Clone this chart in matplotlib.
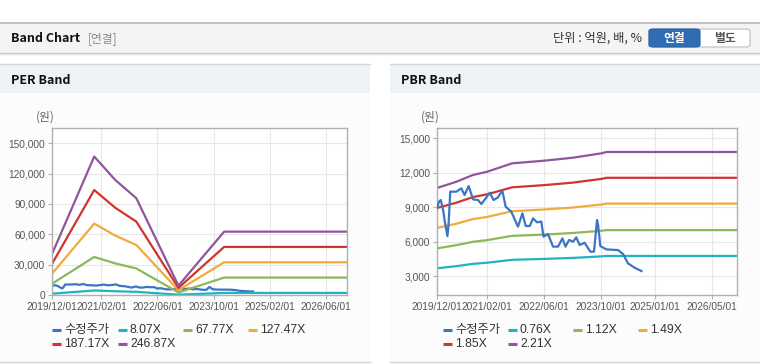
import matplotlib
matplotlib.use("Agg")
import matplotlib.pyplot as plt
import matplotlib.dates as mdates
from matplotlib.patches import Rectangle, FancyBboxPatch
from matplotlib.lines import Line2D
from matplotlib.ticker import FuncFormatter, FixedLocator
import pandas as pd

# ---------------- data ----------------
price_dates = ["2019-12-01", "2019-12-18", "2020-01-02", "2020-01-22", "2020-02-08", "2020-02-28",
               "2020-03-09", "2020-03-23", "2020-05-13", "2020-06-25", "2020-07-23", "2020-08-27",
               "2020-10-03", "2020-11-15", "2020-12-13", "2021-01-25", "2021-02-23", "2021-03-27",
               "2021-05-03", "2021-06-10", "2021-07-08", "2021-08-25", "2021-10-21", "2021-11-28",
               "2021-12-26", "2022-01-30", "2022-02-27", "2022-04-01", "2022-05-08", "2022-05-27",
               "2022-07-04", "2022-08-16", "2022-09-28", "2022-11-04", "2022-11-30", "2022-12-31",
               "2023-02-03", "2023-03-02", "2023-03-31", "2023-05-12", "2023-06-30", "2023-07-31",
               "2023-08-26", "2023-09-04", "2023-09-23", "2023-11-14", "2024-02-22", "2024-04-04",
               "2024-05-16", "2024-07-12", "2024-09-08"]
price_values = [8900, 9480, 9620, 8750, 7590, 6480,
                7590, 10350, 10350, 10640, 10060, 10840,
                9680, 9620, 9270, 9850, 10260, 9620,
                9850, 10440, 9040, 8610, 7300, 8460,
                7360, 7360, 8030, 7680, 7740, 6430,
                6660, 5560, 5560, 6280, 5560, 6140,
                5990, 6370, 5700, 5900, 5120, 5120,
                7880, 7440, 5610, 5320, 5260, 4910,
                4100, 3720, 3430]

per_dates = ["2019-12-01", "2020-12-01", "2021-06-01", "2021-12-01", "2022-12-01", "2024-01-01", "2026-12-01"]
per_8_07 = [1320, 4470, 3720, 3130, 300, 2050, 2050]
per_67_77 = [11100, 37600, 31200, 26200, 2530, 17200, 17200]
per_127_47 = [20900, 70600, 58700, 49400, 4750, 32300, 32300]
per_187_17 = [30700, 103700, 86200, 72500, 7000, 47500, 47500]
per_246_87 = [40500, 136800, 113700, 95600, 9200, 62600, 62600]

pbr_dates = ["2019-12-01", "2020-05-15", "2020-10-01", "2021-02-01", "2021-09-01", "2022-06-01",
             "2023-02-01", "2023-10-01", "2023-11-15", "2026-12-01"]
pbr_0_76 = [3670, 3860, 4060, 4160, 4410, 4490, 4580, 4710, 4750, 4750]
pbr_1_12 = [5410, 5690, 5980, 6130, 6500, 6610, 6750, 6940, 7000, 7000]
pbr_1_49 = [7190, 7560, 7960, 8150, 8640, 8800, 8970, 9230, 9310, 9310]
pbr_1_85 = [8930, 9390, 9880, 10120, 10730, 10920, 11140, 11460, 11560, 11560]
pbr_2_21 = [10670, 11220, 11800, 12090, 12820, 13050, 13310, 13690, 13810, 13810]

per_labels = ["수정주가", "8.07X", "67.77X", "127.47X", "187.17X", "246.87X"]
pbr_labels = ["수정주가", "0.76X", "1.12X", "1.49X", "1.85X", "2.21X"]
per_xticks = ["2019-12-01", "2021-02-01", "2022-06-01", "2023-10-01", "2025-02-01", "2026-06-01"]
pbr_xticks = ["2019-12-01", "2021-02-01", "2022-06-01", "2023-10-01", "2025-01-01", "2026-05-01"]
per_yticks = [0, 30000, 60000, 90000, 120000, 150000]
pbr_yticks = [3000, 6000, 9000, 12000, 15000]

colors = ["#3a76c4", "#1fb3c4", "#8db858", "#f0ab3e", "#d0342c", "#8f569c"]

# ---------------- figure ----------------
W, H = 760, 364
fig = plt.figure(figsize=(W / 100, H / 100), dpi=100)
fig.patch.set_facecolor("white")
KR = ["Noto Sans CJK KR", "DejaVu Sans"]
NUM = ["Liberation Sans", "Noto Sans CJK KR", "DejaVu Sans"]


def fx(x):
    return x / W


def fy(y):
    return 1 - y / H


def rect(x0, y0, x1, y1, fc, ec="none", lw=0, z=0):
    fig.add_artist(Rectangle((fx(x0), fy(y1)), fx(x1) - fx(x0), fy(y0) - fy(y1),
                             transform=fig.transFigure, facecolor=fc, edgecolor=ec, lw=lw, zorder=z))


def hline(x0, x1, y, color, lw=1.0, z=1):
    fig.add_artist(Line2D([fx(x0), fx(x1)], [fy(y), fy(y)], transform=fig.transFigure,
                          color=color, lw=lw, zorder=z))


# top header
rect(0, 22, 760, 53, "#f4f4f4")
hline(0, 760, 22.5, "#b9b9b9", 1.2)
hline(0, 760, 53, "#c4c4c4", 1.0)
hline(0, 760, 54.2, "#e4e4e4", 1.0)
fig.text(fx(11), fy(38.5), "Band Chart", fontsize=9, fontweight="bold", color="#111111",
         family=KR, va="center", ha="left")
fig.text(fx(88), fy(38.5), "[연결]", fontsize=8.5, color="#8a8a8a", family=KR, va="center", ha="left")
fig.text(fx(642), fy(38.5), "단위 : 억원, 배, %", fontsize=8.8, color="#333333", family=KR,
         va="center", ha="right")
# toggle buttons
fig.add_artist(FancyBboxPatch((fx(649), fy(47)), fx(750) - fx(649), fy(29) - fy(47),
                              boxstyle="round,pad=0,rounding_size=0.006", transform=fig.transFigure,
                              facecolor="white", edgecolor="#bdbdbd", lw=0.8, zorder=2))
fig.add_artist(FancyBboxPatch((fx(649), fy(47)), fx(700) - fx(649), fy(29) - fy(47),
                              boxstyle="round,pad=0,rounding_size=0.006", transform=fig.transFigure,
                              facecolor="#2e6db4", edgecolor="#2a64a6", lw=0.8, zorder=2.5))
fig.text(fx(674.5), fy(38.5), "연결", fontsize=8.5, color="white", fontweight="bold", family=KR,
         va="center", ha="center", zorder=3)
fig.text(fx(725), fy(38.5), "별도", fontsize=8.5, color="#555555", fontweight="bold", family=KR,
         va="center", ha="center", zorder=3)

# panels
for (px0, px1, title) in [(0, 370, "PER Band"), (390, 760, "PBR Band")]:
    rect(px0, 64, px1, 93, "#eef2f7")
    rect(px0, 93, px1, 362, "#fcfcfc")
    hline(px0, px1, 64, "#d6d6d6", 1.0)
    hline(px0, px1, 362, "#d6d6d6", 1.0)
    fig.text(fx(px0 + 11), fy(80), title, fontsize=9, fontweight="bold", color="#111111",
             family=KR, va="center", ha="left")


def setup_axes(ax, xticks, yticks, ylim):
    ax.set_facecolor("white")
    ax.set_xlim(pd.Timestamp("2019-12-01"), pd.Timestamp("2026-12-01"))
    ax.set_ylim(*ylim)
    ax.xaxis.set_major_locator(FixedLocator([mdates.date2num(pd.Timestamp(d)) for d in xticks]))
    ax.xaxis.set_major_formatter(mdates.DateFormatter("%Y/%m/%d"))
    ax.yaxis.set_major_locator(FixedLocator(yticks))
    ax.yaxis.set_major_formatter(FuncFormatter(lambda v, p: f"{int(v):,}"))
    ax.grid(True, color="#e8e8e8", lw=0.8)
    ax.set_axisbelow(True)
    for s in ax.spines.values():
        s.set_color("#b0b0b0")
        s.set_linewidth(1.0)
    ax.tick_params(axis="both", colors="#b0b0b0", labelcolor="#555555", labelsize=7.3,
                   length=3, width=0.8, pad=2)
    for lab in ax.get_xticklabels() + ax.get_yticklabels():
        lab.set_family(NUM)


def legend(x_cols, rows_y, labels):
    pos = [(x_cols[0], rows_y[0]), (x_cols[1], rows_y[0]), (x_cols[2], rows_y[0]),
           (x_cols[3], rows_y[0]), (x_cols[0], rows_y[1]), (x_cols[1], rows_y[1])]
    for (x, y), lab, c in zip(pos, labels, colors):
        fig.add_artist(Line2D([fx(x), fx(x + 9)], [fy(y), fy(y)], transform=fig.transFigure,
                              color=c, lw=2.2, solid_capstyle="butt", zorder=3))
        fig.text(fx(x + 12), fy(y), lab, fontsize=8.8, color="#333333", family=NUM,
                 va="center", ha="left", zorder=3)


# PER axes
ax1 = fig.add_axes([fx(52), fy(295), fx(347) - fx(52), fy(128) - fy(295)])
setup_axes(ax1, per_xticks, per_yticks, (0, 165000))
pd_per = pd.to_datetime(per_dates)
pd_price = pd.to_datetime(price_dates)
for vals, c in zip([per_8_07, per_67_77, per_127_47, per_187_17, per_246_87], colors[1:]):
    ax1.plot(pd_per, vals, color=c, lw=1.6, solid_joinstyle="round")
ax1.plot(pd_price, price_values, color=colors[0], lw=1.6, zorder=1.9)
fig.text(fx(36), fy(117), "(원)", fontsize=8.5, color="#666666", family=KR, va="center", ha="left")
legend([52, 118, 183, 248], [330, 344], per_labels)

# PBR axes
ax2 = fig.add_axes([fx(437), fy(295), fx(737) - fx(437), fy(128) - fy(295)])
setup_axes(ax2, pbr_xticks, pbr_yticks, (1345, 15900))
pd_pbr = pd.to_datetime(pbr_dates)
for vals, c in zip([pbr_0_76, pbr_1_12, pbr_1_49, pbr_1_85, pbr_2_21], colors[1:]):
    ax2.plot(pd_pbr, vals, color=c, lw=1.6)
ax2.plot(pd_price, price_values, color=colors[0], lw=1.6, zorder=3)
fig.text(fx(421), fy(117), "(원)", fontsize=8.5, color="#666666", family=KR, va="center", ha="left")
legend([443, 508, 573, 638], [330, 344], pbr_labels)

fig.savefig("out.png", dpi=100, facecolor=fig.get_facecolor())
